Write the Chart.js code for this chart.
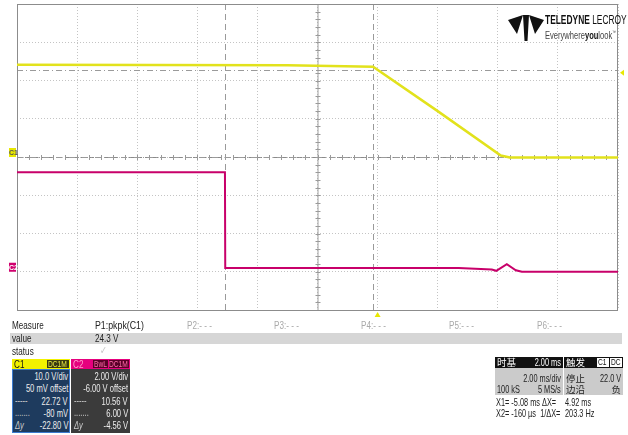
<!DOCTYPE html>
<html>
<head>
<meta charset="utf-8">
<script src="https://cdn.jsdelivr.net/npm/chart.js@4"></script>
<style>
  body { margin: 0; background: #fff; }
  #wrap { position: relative; width: 628px; height: 435px; overflow: hidden; }
  canvas { position: absolute; left: 0; top: 0; }
  .t { position: absolute; font-family: "Liberation Sans", Arial, sans-serif; font-size: 11px; line-height: 11px; white-space: nowrap; color: #222; transform: scaleX(0.74); transform-origin: left top; }
  .r { transform-origin: right top; }
  .c { font-size: 11.5px; transform: scaleX(0.66); color: #ececec; }
  .n { font-size: 11.5px; transform: scaleX(0.64); }
  .cjk { font-family: "Noto Sans CJK SC", sans-serif; font-size: 9.5px; transform: none; }
  .box { position: absolute; }
</style>
</head>
<body>
<div id="wrap">
  <canvas id="scope" width="628" height="435"></canvas>

  <!-- logo text -->
  <div class="t" style="left:545px;top:15px;font-size:12px;transform:scaleX(0.7);color:#111;"><b>TELEDYNE</b> LECROY</div>
  <div class="t" style="left:545px;top:27px;font-size:10.5px;transform:scaleX(0.72);color:#444;">Everywhere<b style="color:#111">you</b>look<sup style="font-size:5px">™</sup></div>

  <!-- measure table -->
  <div class="box" style="left:10px;top:333px;width:612px;height:11px;background:#d6d6d6;"></div>
  <div class="t" style="left:12px;top:320px;">Measure</div>
  <div class="t" style="left:95px;top:320px;transform:scaleX(0.8);">P1:pkpk(C1)</div>
  <div class="t" style="left:187px;top:320px;color:#aaa;">P2:- - -</div>
  <div class="t" style="left:274px;top:320px;color:#aaa;">P3:- - -</div>
  <div class="t" style="left:361px;top:320px;color:#aaa;">P4:- - -</div>
  <div class="t" style="left:449px;top:320px;color:#aaa;">P5:- - -</div>
  <div class="t" style="left:537px;top:320px;color:#aaa;">P6:- - -</div>
  <div class="t" style="left:12px;top:333px;">value</div>
  <div class="t" style="left:95px;top:333px;">24.3 V</div>
  <div class="t" style="left:12px;top:346px;">status</div>
  <div class="t" style="left:100px;top:345px;color:#c4c4c4;">✓</div>

  <!-- C1 box -->
  <div class="box" style="left:12px;top:359px;width:58px;height:10px;background:#f2f200;"></div>
  <div class="t" style="left:14px;top:359px;color:#111;">C1</div>
  <div class="box" style="left:47px;top:360px;width:22px;height:8px;background:#3a3a10;"></div>
  <div class="t" style="left:48px;top:359px;font-size:9px;color:#e8e840;">DC1M</div>
  <div class="box" style="left:12px;top:369px;width:56px;height:62px;background:#1e3b5e;border:1px solid #3b7bd0;"></div>
  <div class="t r c" style="right:560px;top:371px;">10.0 V/div</div>
  <div class="t r c" style="right:560px;top:383px;">50 mV offset</div>
  <div class="t c" style="left:15px;top:395px;color:#ccc;">-----</div>
  <div class="t r c" style="right:560px;top:396px;">22.72 V</div>
  <div class="t c" style="left:15px;top:407px;color:#ccc;">.......</div>
  <div class="t r c" style="right:560px;top:408px;">-80 mV</div>
  <div class="t c" style="left:15px;top:420px;color:#ccc;font-style:italic;">Δy</div>
  <div class="t r c" style="right:560px;top:420px;">-22.80 V</div>

  <!-- C2 box -->
  <div class="box" style="left:71px;top:359px;width:59px;height:10px;background:#e6007e;"></div>
  <div class="t" style="left:73px;top:359px;color:#ff9ccc;">C2</div>
  <div class="box" style="left:93px;top:360px;width:15px;height:8px;background:#5a0028;"></div>
  <div class="t" style="left:94px;top:359px;font-size:9px;color:#ff6aa8;">BwL</div>
  <div class="box" style="left:109px;top:360px;width:20px;height:8px;background:#5a0028;"></div>
  <div class="t" style="left:109px;top:359px;font-size:9px;color:#ff6aa8;">DC1M</div>
  <div class="box" style="left:71px;top:369px;width:59px;height:64px;background:#3b3b3b;"></div>
  <div class="t r c" style="right:500px;top:371px;">2.00 V/div</div>
  <div class="t r c" style="right:500px;top:383px;">-6.00 V offset</div>
  <div class="t c" style="left:74px;top:395px;color:#ccc;">-----</div>
  <div class="t r c" style="right:500px;top:396px;">10.56 V</div>
  <div class="t c" style="left:74px;top:407px;color:#ccc;">.......</div>
  <div class="t r c" style="right:500px;top:408px;">6.00 V</div>
  <div class="t c" style="left:74px;top:420px;color:#ccc;font-style:italic;">Δy</div>
  <div class="t r c" style="right:500px;top:420px;">-4.56 V</div>

  <!-- timebase / trigger -->
  <div class="box" style="left:495px;top:357px;width:68px;height:11px;background:#111;"></div>
  <div class="box" style="left:564px;top:357px;width:59px;height:11px;background:#111;"></div>
  <div class="box" style="left:495px;top:368px;width:128px;height:27px;background:#cbcbcb;"></div>
  <div class="box" style="left:563px;top:368px;width:1px;height:27px;background:#fff;"></div>
  <div class="t cjk" style="left:497px;top:357px;color:#fff;">时基</div>
  <div class="t r n" style="right:67px;top:357px;color:#fff;">2.00 ms</div>
  <div class="t cjk" style="left:566px;top:357px;color:#fff;">触发</div>
  <div class="box" style="left:597px;top:358px;width:12px;height:9px;background:#fff;"></div>
  <div class="box" style="left:610px;top:358px;width:12px;height:9px;background:#fff;"></div>
  <div class="t" style="left:598px;top:357px;font-size:9px;color:#111;">C1</div>
  <div class="t" style="left:611px;top:357px;font-size:9px;color:#111;">DC</div>
  <div class="t r n" style="right:67px;top:373px;">2.00 ms/div</div>
  <div class="t n" style="left:497px;top:384px;">100 kS</div>
  <div class="t r n" style="right:67px;top:384px;">5 MS/s</div>
  <div class="t cjk" style="left:566px;top:373px;">停止</div>
  <div class="t r n" style="right:7px;top:373px;">22.0 V</div>
  <div class="t cjk" style="left:566px;top:384px;">边沿</div>
  <div class="t r cjk" style="right:7px;top:384px;">负</div>
  <div class="t n" style="left:496px;top:397px;">X1= -5.08 ms ΔX=</div>
  <div class="t n" style="left:565px;top:397px;">4.92 ms</div>
  <div class="t n" style="left:496px;top:408px;">X2= -160 µs &nbsp;1/ΔX=</div>
  <div class="t n" style="left:565px;top:408px;">203.3 Hz</div>
</div>

<script>
// time axis (ms), 2 ms/div, trigger at 0
const timeTicks = [-12, -10, -8, -6, -4, -2, 0, 2, 4, 6, 8];
// C1: 10 V/div
const c1Time  = [-12, -3, -0.15, 2.0, 4.1, 4.4, 8];
const c1Volts = [24.1, 24.0, 23.6, 12.0, 0.4, -0.15, -0.15];
// C2: 2 V/div, -6 V offset
const c2Time  = [-12, -5.08, -5.07, 2.7, 3.8, 3.95, 4.3, 4.6, 4.8, 8];
const c2Volts = [5.2, 5.2, 0.2, 0.2, 0.12, 0.05, 0.4, 0.08, 0.0, 0.0];
// cursors
const cursorTimes = [-5.08, -0.16];
const cursorC1Volts = [22.72, -0.08];
const triggerLevel = 22.0;

const toPoints = (xs, ys) => xs.map((x, i) => ({ x: x, y: ys[i] }));

const scopeDecor = {
  id: 'scopeDecor',
  beforeDatasetsDraw(chart) {
    const ctx = chart.ctx;
    const a = chart.chartArea;
    const xs = chart.scales.x, ys = chart.scales.y;
    const cx = xs.getPixelForValue(-2);
    const cy = ys.getPixelForValue(0);
    ctx.save();
    // center crosshair
    ctx.strokeStyle = '#8a8a8a';
    ctx.lineWidth = 1;
    ctx.setLineDash([5, 3]);
    ctx.beginPath();
    ctx.moveTo(a.left, cy + 0.5); ctx.lineTo(a.right, cy + 0.5);
    ctx.stroke();
    ctx.setLineDash([]);
    ctx.strokeStyle = '#a0a0a0';
    ctx.beginPath();
    ctx.moveTo(cx + 0.5, a.top); ctx.lineTo(cx + 0.5, a.bottom);
    ctx.stroke();
    const dx = (a.right - a.left) / 50;
    const dy = (a.bottom - a.top) / 40;
    ctx.strokeStyle = '#9a9a9a';
    ctx.beginPath();
    for (let i = 1; i < 50; i++) {
      const px = Math.round(a.left + i * dx) + 0.5;
      ctx.moveTo(px, cy - 2); ctx.lineTo(px, cy + 3);
    }
    for (let i = 1; i < 40; i++) {
      const py = Math.round(a.top + i * dy) + 0.5;
      ctx.moveTo(cx - 2, py); ctx.lineTo(cx + 3, py);
    }
    ctx.stroke();
    // time cursors
    ctx.strokeStyle = '#9a9a9a';
    ctx.setLineDash([6, 4]);
    ctx.beginPath();
    cursorTimes.forEach(t => {
      const px = Math.round(xs.getPixelForValue(t)) + 0.5;
      ctx.moveTo(px, a.top); ctx.lineTo(px, a.bottom);
    });
    ctx.stroke();
    // voltage cursors
    ctx.setLineDash([6, 3, 1, 3]);
    ctx.beginPath();
    cursorC1Volts.forEach(v => {
      const py = Math.round(ys.getPixelForValue(v)) + 0.5;
      ctx.moveTo(a.left, py); ctx.lineTo(a.right, py);
    });
    ctx.stroke();
    ctx.setLineDash([]);
    // frame
    ctx.strokeStyle = '#8c8c8c';
    ctx.strokeRect(a.left + 0.5, a.top + 0.5, a.right - a.left - 1, a.bottom - a.top);
    ctx.restore();
  },
  afterDraw(chart) {
    const ctx = chart.ctx;
    const a = chart.chartArea;
    const xs = chart.scales.x, ys = chart.scales.y, ys2 = chart.scales.y2;
    ctx.save();
    // trigger position marker
    const tx = xs.getPixelForValue(0);
    ctx.fillStyle = '#e8e800';
    ctx.beginPath();
    ctx.moveTo(tx - 3, a.bottom + 7); ctx.lineTo(tx + 3, a.bottom + 7); ctx.lineTo(tx, a.bottom + 2);
    ctx.fill();
    // trigger level marker
    const ty = ys.getPixelForValue(triggerLevel);
    ctx.beginPath();
    ctx.moveTo(a.right + 6, ty - 3); ctx.lineTo(a.right + 6, ty + 3); ctx.lineTo(a.right + 2, ty);
    ctx.fill();
    // channel ground markers
    ctx.font = 'bold 7px "Liberation Sans", sans-serif';
    const g1 = ys.getPixelForValue(0);
    ctx.fillStyle = '#e8e800';
    ctx.fillRect(9, g1 - 9, 7, 9);
    ctx.fillStyle = '#555';
    ctx.fillText('C1', 9, g1 - 2);
    const g2 = ys2.getPixelForValue(0);
    ctx.fillStyle = '#d0006e';
    ctx.fillRect(9, g2 - 9, 7, 9);
    ctx.fillStyle = '#fff';
    ctx.fillText('C2', 9, g2 - 2);
    // logo mark
    ctx.fillStyle = '#111';
    ctx.beginPath();
    ctx.moveTo(508, 20); ctx.lineTo(523, 15); ctx.lineTo(517, 34); ctx.closePath();
    ctx.moveTo(523, 15); ctx.lineTo(529, 15); ctx.lineTo(527.5, 41); ctx.lineTo(524.5, 41); ctx.closePath();
    ctx.moveTo(544, 20); ctx.lineTo(529, 15); ctx.lineTo(535, 34); ctx.closePath();
    ctx.fill();
    ctx.restore();
  }
};

new Chart(document.getElementById('scope').getContext('2d'), {
  type: 'line',
  data: {
    datasets: [{
      label: 'C1',
      data: toPoints(c1Time, c1Volts),
      yAxisID: 'y',
      borderColor: '#e2e21c',
      borderWidth: 2.5,
      pointRadius: 0,
      tension: 0
    }, {
      label: 'C2',
      data: toPoints(c2Time, c2Volts),
      yAxisID: 'y2',
      borderColor: '#c8006a',
      borderWidth: 2,
      pointRadius: 0,
      tension: 0
    }]
  },
  options: {
    responsive: false,
    animation: false,
    devicePixelRatio: 1,
    layout: { padding: { left: 17, top: 4, right: 10, bottom: 125 } },
    plugins: { legend: { display: false }, tooltip: { enabled: false } },
    scales: {
      x: {
        type: 'linear',
        min: -12,
        max: 8,
        afterBuildTicks: s => { s.ticks = timeTicks.map(v => ({ value: v })); },
        ticks: { display: false },
        grid: { color: '#c4c4c4', drawTicks: false, lineWidth: 1 },
        border: { display: false, dash: [1, 2] }
      },
      y: {
        min: -40,
        max: 40,
        ticks: { display: false, stepSize: 10 },
        grid: { color: '#c4c4c4', drawTicks: false, lineWidth: 1 },
        border: { display: false, dash: [1, 2] }
      },
      y2: {
        display: false,
        min: -2,
        max: 14
      }
    }
  },
  plugins: [scopeDecor]
});
</script>
</body>
</html>
